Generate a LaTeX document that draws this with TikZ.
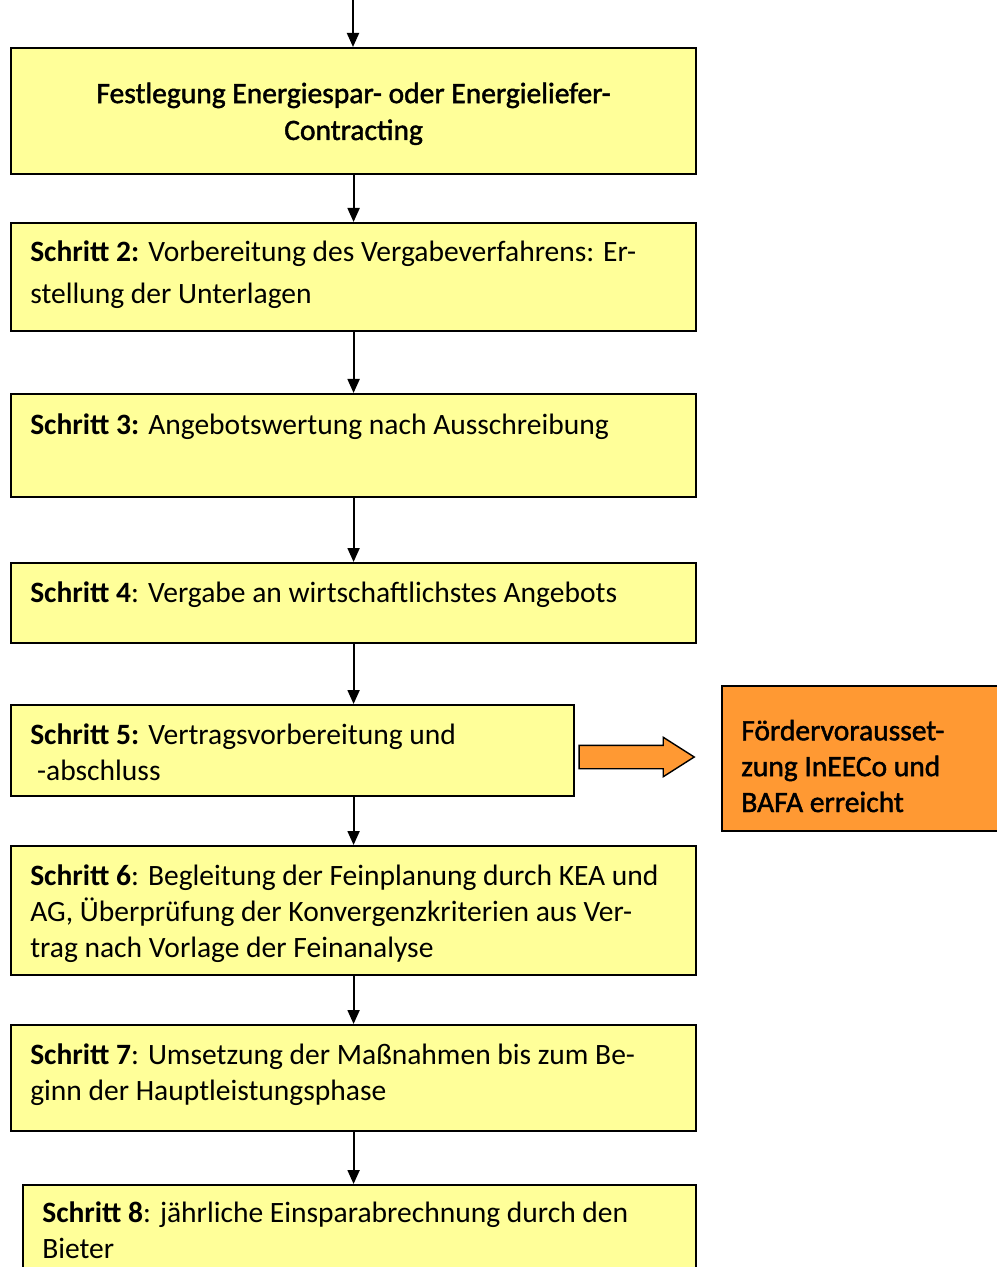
\documentclass[tikz,border=0pt]{standalone}
\usepackage{fontspec}
\setmainfont{Carlito}
\newfontfamily\semifont[FakeBold=1.5]{Carlito}
\usetikzlibrary{arrows.meta,shapes.arrows}
\definecolor{boxyellow}{RGB}{255,255,153}
\definecolor{boxorange}{RGB}{255,153,51}
\tikzset{
    stepbox/.style={rectangle, draw, line width=1.4pt, fill=boxyellow, inner sep=0pt, anchor=north west}
}
\tikzset{
    steptext/.style={inner sep=0pt, anchor=base west, align=left, font=\fontsize{21}{25.5}\selectfont},
    flow/.style={line width=1.4pt, -{Triangle[length=0.35cm, width=0.3cm]}}
}

\begin{document}
\begin{tikzpicture}[x=0.025cm, y=-0.025cm]
        \useasboundingbox (0,0) rectangle (996,1267);
        \node (s1) [stepbox, minimum width=17.125cm, minimum height=3.15cm] at (10,47) {};
        \node (s2) [stepbox, minimum width=17.125cm, minimum height=2.7cm] at (10,222) {};
        \node (s3) [stepbox, minimum width=17.125cm, minimum height=2.575cm] at (10,393) {};
        \node (s4) [stepbox, minimum width=17.125cm, minimum height=2cm] at (10,562) {};
        \node (s5) [stepbox, minimum width=14.075cm, minimum height=2.275cm] at (10,704) {};
        \node (s6) [stepbox, minimum width=17.125cm, minimum height=3.225cm] at (10,845) {};
        \node (s7) [stepbox, minimum width=17.125cm, minimum height=2.65cm] at (10,1024) {};
        \node (s8) [stepbox, minimum width=16.825cm, minimum height=2.75cm] at (22,1184) {};
        \node (foerd) [stepbox, fill=boxorange, minimum width=7.5cm, minimum height=3.625cm] at (721,685) {};
        \node (t1) [steptext, anchor=center, align=center, font=\fontsize{21}{26.2}\semifont] at ([yshift=-0.07cm]s1.center) {Festlegung Energiespar- oder Energieliefer-\\Contracting};
        \node (t2) [steptext] at (30,303) {\textbf{Schritt 2:} Vorbereitung des Vergabeverfahrens: Er-\\[0.15cm]stellung der Unterlagen};
        \node (t3) [steptext] at (30,434) {\textbf{Schritt 3:} Angebotswertung nach Ausschreibung};
        \node (t4) [steptext] at (30,602) {\textbf{Schritt 4}: Vergabe an wirtschaftlichstes Angebots};
        \node (t5) [steptext] at (30,780) {\textbf{Schritt 5:} Vertragsvorbereitung und\\\hspace*{0.17cm}-abschluss};
        \node (t6) [steptext] at (30,957) {\textbf{Schritt 6}: Begleitung der Feinplanung durch KEA und\\AG, Überprüfung der Konvergenzkriterien aus Ver-\\trag nach Vorlage der Feinanalyse};
        \node (t7) [steptext] at (30,1100) {\textbf{Schritt 7}: Umsetzung der Maßnahmen bis zum Be-\\ginn der Hauptleistungsphase};
        \node (t8) [steptext] at (42,1258) {\textbf{Schritt 8}: jährliche Einsparabrechnung durch den\\Bieter};
        \node (tf) [steptext, font=\fontsize{21}{25.5}\semifont] at (741,812) {Fördervorausset-\\zung InEECo und\\BAFA erreicht};
        \node (pfeil) [single arrow, draw, line width=1pt, fill=boxorange, inner xsep=0pt, inner ysep=0.275cm, minimum width=0.95cm, minimum height=2.875cm, single arrow head extend=0.2cm, single arrow tip angle=65] at (627.5,757) {};
        \coordinate (top) at (353,0);
        \draw[flow] (top) -- (top |- s1.north);
        \draw[flow] (s1.south) -- (s2.north);
        \draw[flow] (s2.south) -- (s3.north);
        \draw[flow] (s3.south) -- (s4.north);
        \draw[flow] (s4.south) -- (s4.south |- s5.north);
        \draw[flow] (s6.north |- s5.south) -- (s6.north);
        \draw[flow] (s6.south) -- (s7.north);
        \draw[flow] (s7.south) -- (s7.south |- s8.north);
\end{tikzpicture}
\end{document}
